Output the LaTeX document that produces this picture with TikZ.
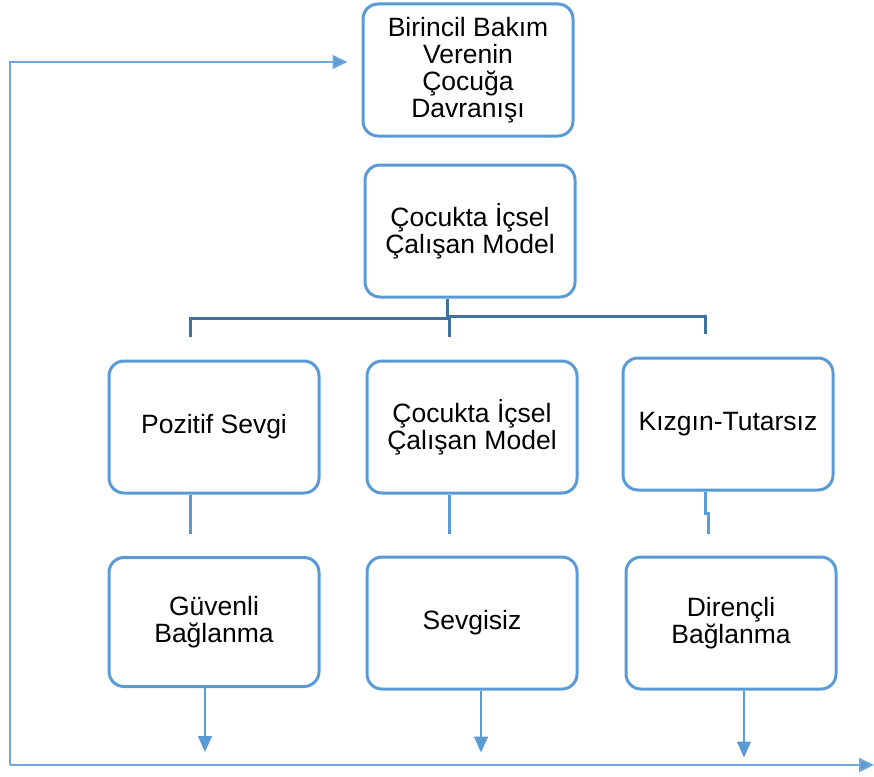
\documentclass[tikz,border=0pt]{standalone}
\usepackage{fontspec}
\setmainfont{Liberation Sans}
\usetikzlibrary{arrows.meta}
\definecolor{kutumavi}{HTML}{5B9BD5}
\definecolor{dalmavi}{HTML}{41719C}
\definecolor{donmavi}{HTML}{6FA8DC}
\begin{document}
\begin{tikzpicture}[x=1pt,y=-1pt,
  kutu/.style={draw=kutumavi,line width=3pt,rounded corners=15pt,fill=white,
    minimum width=210pt,minimum height=132pt,align=center,inner sep=2pt,
    font=\fontsize{26.5}{27}\selectfont},
  dal/.style={draw=dalmavi,line width=3pt},
  ayak/.style={draw=kutumavi,line width=3pt},
  ok/.style={draw=kutumavi,line width=1.5pt,-{Triangle[length=16pt,width=14pt]}},
  dongu/.style={draw=donmavi,line width=1.8pt,-{Triangle[length=15pt,width=14pt,fill=kutumavi]}}]
\useasboundingbox (0,0) rectangle (874,776);
% kutular
\node[kutu] (bakim) at (468,70) {Birincil Bakım\\Verenin\\Çocuğa\\Davranışı};
\node[kutu] (model) at (470,231) {Çocukta İçsel\\Çalışan Model};
\node[kutu] (sevgi) at (214,427) {Pozitif Sevgi};
\node[kutu] (model2) at (472,427) {Çocukta İçsel\\Çalışan Model};
\node[kutu] (kizgin) at (728,424) {Kızgın-Tutarsız};
\node[kutu,minimum height=129pt] (guvenli) at (214,622) {Güvenli\\Bağlanma};
\node[kutu] (sevgisiz) at (472,623) {Sevgisiz};
\node[kutu] (direncli) at (731,623) {Dirençli\\Bağlanma};
% dallanma
\coordinate (dal) at (447,316);
\coordinate (u1) at (190,337);
\coordinate (u2) at (449,337);
\coordinate (u3) at (705,334);
\draw[dal] (model.south -| dal) -- (dal) -| (u3);
\draw[dal] (u1) |- (449,318) -- (u2);
% alt baglar
\draw[ayak] ([xshift=-24pt]sevgi.south) -- ++(0,39);
\draw[ayak] ([xshift=-23pt]model2.south) -- ++(0,39);
\draw[ayak] ([xshift=-23pt]kizgin.south) -- ++(0,22) -- ++(3,0) -- ++(0,20);
% oklar
\draw[ok] ([xshift=-9pt]guvenli.south) -- ++(0,64);
\draw[ok] ([xshift=9pt]sevgisiz.south) -- ++(0,62);
\draw[ok] ([xshift=13pt]direncli.south) -- ++(0,67);
% geri donus
\coordinate (sol) at (10,765);
\coordinate (sag) at (874,765);
\draw[dongu] (sol) -- (sag);
\draw[dongu] (sol) |- ([xshift=-14pt,yshift=8pt]bakim.west);
\end{tikzpicture}
\end{document}
